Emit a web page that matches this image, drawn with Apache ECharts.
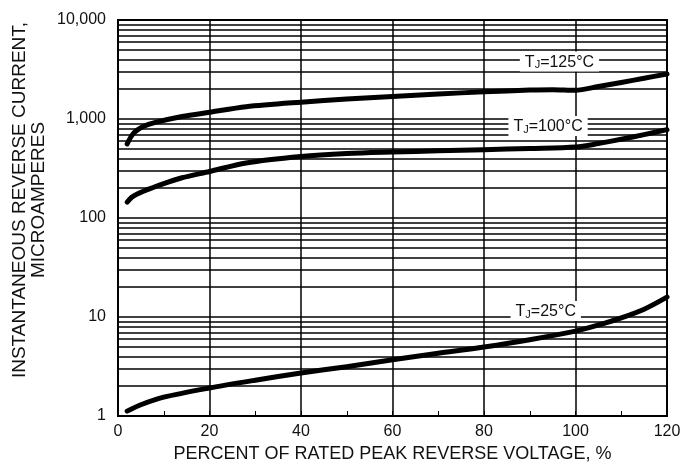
<!DOCTYPE html>
<html>
<head>
<meta charset="utf-8">
<script src="https://cdn.jsdelivr.net/npm/echarts@6/dist/echarts.min.js"></script>
<style>
  html, body { margin: 0; padding: 0; background: #fff; }
  #chart { width: 684px; height: 468px; }
</style>
</head>
<body>
<div id="chart"></div>
<script>
// Percent of rated peak reverse voltage (x) and reverse current in µA (y), per junction temperature
const x125 = [2, 3, 4, 5.5, 8, 14, 20, 28, 40, 50, 60, 70, 80, 90, 95, 100, 105, 110, 115, 120];
const y125 = [560, 680, 760, 840, 920, 1060, 1170, 1330, 1480, 1590, 1690, 1790, 1880, 1960, 1980, 1950, 2130, 2340, 2580, 2850];

const x100 = [2, 3, 4.2, 7.4, 10, 14, 20, 28, 40, 50, 60, 70, 80, 90, 100, 105, 110, 115, 120];
const y100 = [145, 162, 175, 201, 222, 255, 295, 360, 418, 448, 464, 477, 490, 503, 520, 565, 625, 695, 780];

const x25 = [2, 5, 10, 20, 30, 40, 50, 60, 70, 80, 90, 100, 105, 110, 115, 120];
const y25 = [1.12, 1.3, 1.55, 1.92, 2.3, 2.72, 3.15, 3.7, 4.3, 4.98, 5.9, 7.2, 8.3, 9.8, 12, 15.9];

// Axis tick labels
const xTicks = [0, 20, 40, 60, 80, 100, 120];
const yTicks = [1, 10, 100, 1000, 10000];

// Curve annotations: text and anchor in data space
const labelTexts = ['125', '100', '25'];
const labelAnchors = [[96.5, 3800], [94, 850], [93.5, 11.5]];

// Log-decade minor grid values (2..9 in each decade)
const minorGridValues = [];
for (let d = 1; d < 10000; d *= 10) {
  for (let k = 2; k <= 9; k++) minorGridValues.push(k * d);
}

const FONT = '"Liberation Sans", Arial, Helvetica, sans-serif';
const pairs = (xs, ys) => xs.map((x, i) => [x, ys[i]]);

const curveStyle = (name, xs, ys) => ({
  name: name,
  type: 'line',
  data: pairs(xs, ys),
  smooth: 0.3,
  showSymbol: false,
  symbol: 'none',
  silent: true,
  z: 3,
  lineStyle: { color: '#000', width: 5, cap: 'round', join: 'round' }
});

const chart = echarts.init(document.getElementById('chart'), null, { renderer: 'canvas' });

chart.setOption({
  backgroundColor: '#fff',
  animation: false,
  grid: {
    left: 118, right: 17, top: 20, bottom: 51,
    show: true, borderColor: '#000', borderWidth: 2, backgroundColor: 'transparent'
  },
  xAxis: {
    type: 'value',
    min: xTicks[0],
    max: xTicks[xTicks.length - 1],
    interval: 20,
    name: 'PERCENT OF RATED PEAK REVERSE VOLTAGE, %',
    nameLocation: 'middle',
    nameGap: 29,
    nameTextStyle: { fontFamily: FONT, fontSize: 18, color: '#111' },
    axisLine: { show: true, lineStyle: { color: '#000', width: 2 } },
    axisTick: { show: true, inside: true, length: 5, lineStyle: { color: '#000', width: 1 } },
    minorTick: { show: true, splitNumber: 2, length: 5, lineStyle: { color: '#000', width: 1 } },
    axisLabel: { fontFamily: FONT, fontSize: 16, color: '#111', margin: 8 },
    splitLine: { show: true, lineStyle: { color: '#000', width: 1.5 } }
  },
  yAxis: {
    type: 'log',
    logBase: 10,
    min: yTicks[0],
    max: yTicks[yTicks.length - 1],
    axisLine: { show: true, lineStyle: { color: '#000', width: 2 } },
    axisTick: { show: false },
    axisLabel: {
      fontFamily: FONT, fontSize: 16, color: '#111', margin: 12,
      formatter: v => Number(v).toLocaleString('en-US')
    },
    splitLine: { show: true, lineStyle: { color: '#000', width: 1.5 } }
  },
  graphic: [{
    type: 'text',
    x: 29, y: 200,
    rotation: Math.PI / 2,
    style: {
      text: 'INSTANTANEOUS REVERSE CURRENT,\nMICROAMPERES',
      font: '19px ' + FONT,
      fill: '#111',
      textAlign: 'center',
      textVerticalAlign: 'middle',
      lineHeight: 19
    }
  }],
  series: [
    {
      // minor log grid lines
      type: 'line',
      data: [],
      silent: true,
      z: 1,
      markLine: {
        silent: true,
        symbol: 'none',
        label: { show: false },
        animation: false,
        lineStyle: { color: '#000', width: 1.5, type: 'solid' },
        data: minorGridValues.map(v => ({ yAxis: v }))
      }
    },
    curveStyle('TJ=125°C', x125, y125),
    curveStyle('TJ=100°C', x100, y100),
    curveStyle('TJ=25°C', x25, y25),
    {
      // temperature annotations with white boxes
      type: 'scatter',
      data: [],
      silent: true,
      z: 10,
      markPoint: {
        silent: true,
        symbol: 'rect',
        symbolSize: 1,
        itemStyle: { color: 'rgba(0,0,0,0)' },
        animation: false,
        label: {
          show: true,
          position: 'inside',
          backgroundColor: '#fff',
          padding: [1, 5, 1, 5],
          rich: {
            t: { fontFamily: FONT, fontSize: 16, color: '#111', lineHeight: 18, verticalAlign: 'bottom' },
            s: { fontFamily: FONT, fontSize: 11, color: '#111', lineHeight: 14, verticalAlign: 'bottom' }
          }
        },
        data: labelTexts.map((t, i) => ({
          coord: labelAnchors[i],
          label: { formatter: '{t|T}{s|J}{t|=' + t + '°C}' }
        }))
      }
    }
  ]
});
</script>
</body>
</html>
